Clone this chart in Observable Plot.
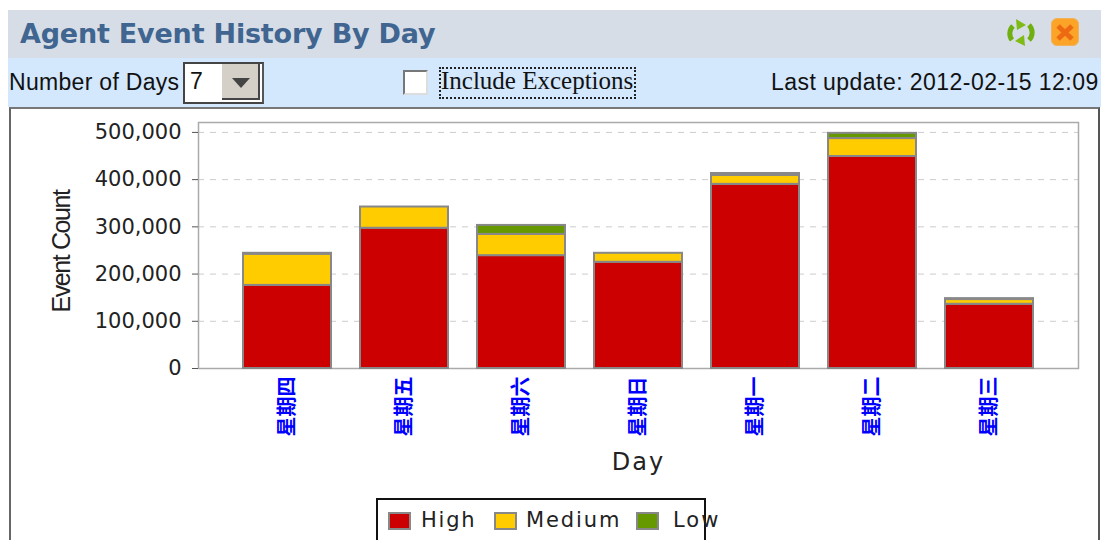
<!DOCTYPE html>
<html><head><meta charset="utf-8">
<script src="https://cdn.jsdelivr.net/npm/d3@7"></script>
<script src="https://cdn.jsdelivr.net/npm/@observablehq/plot@0.6"></script>
<style>
html,body{margin:0;padding:0;background:#fff;overflow:hidden;width:1101px;height:540px}
#root{position:relative;width:1101px;height:540px;overflow:hidden}
.abs{position:absolute;white-space:nowrap}
#chart{position:absolute;left:10px;top:110px}
#chart svg{overflow:visible}
.evc text{letter-spacing:-1.4px}
.dayl text{letter-spacing:2px}
</style></head><body>
<div id="root">
<div class="abs" style="left:8px;top:10px;width:1093px;height:48px;background:#d6dde6"></div>
<div class="abs" style="left:8px;top:58px;width:1093px;height:49px;background:#d3e7fd"></div>
<div class="abs" style="left:9px;top:107px;width:1091px;height:433px;box-sizing:border-box;background:#fff;border-top:2px solid #777;border-left:2px solid #666;border-right:2px solid #555"></div>
<div class="abs" id="title" style="left:20px;top:18px;font:bold 27px 'DejaVu Sans';color:#3f6590;letter-spacing:-.2px">Agent Event History By Day</div>
<svg class="abs" style="left:1004px;top:16px" width="34" height="34" viewBox="0 0 34 34">
  <path d="M8 24 A10.5 10.5 0 0 1 9 10" fill="none" stroke="#6faf10" stroke-width="5"/>
  <path d="M25 9 A10.5 10.5 0 0 1 25 24" fill="none" stroke="#6faf10" stroke-width="5"/>
  <path d="M12 3 L22 9 L13 14Z M21 30 L11 25 L20 19Z" fill="#7fbb14"/>
</svg>
<div class="abs" style="left:1051px;top:18px;width:28px;height:28px;border-radius:6px;background:#fca428;border:1px solid #f2b25c;box-sizing:border-box"></div>
<svg class="abs" style="left:1051px;top:18px" width="28" height="28"><path d="M7 8 L21 21 M21 8 L7 21" stroke="#ee6a12" stroke-width="5"/></svg>
<div class="abs" style="left:9px;top:69px;font:23px 'Liberation Sans';color:#111;letter-spacing:.3px">Number of Days</div>
<div class="abs" style="left:183px;top:62px;width:81px;height:42px;box-sizing:border-box;background:#fff;border:2px solid #444;border-right-color:#555"></div>
<div class="abs" style="left:190px;top:68px;font:23px 'Liberation Sans';color:#111">7</div>
<div class="abs" style="left:222px;top:64px;width:38px;height:36px;box-sizing:border-box;background:#d4d0c8;border-right:2px solid #444;border-bottom:2px solid #444"></div>
<svg class="abs" style="left:222px;top:64px" width="38" height="36"><path d="M10 14 H28 L19 24Z" fill="#444"/></svg>
<div class="abs" style="left:403px;top:70px;width:25px;height:25px;box-sizing:border-box;background:#fff;border:2px solid #777;border-right-color:#ddd;border-bottom-color:#ddd"></div>
<div class="abs" style="left:439px;top:67px;width:197px;height:32px;box-sizing:border-box;border:2px dotted #222"></div>
<div class="abs" id="incl" style="left:441px;top:67px;font:25px 'Liberation Serif';color:#111">Include Exceptions</div>
<div class="abs" id="upd" style="left:771px;top:69px;font:23px 'Liberation Sans';color:#111;letter-spacing:.45px">Last update: 2012-02-15 12:09</div>
<div id="chart"></div>
<div class="abs" style="left:376px;top:498px;width:330px;height:60px;box-sizing:border-box;border:2px solid #111;background:#fff"></div>
<div class="abs" style="left:388px;top:512px;width:23px;height:18px;box-sizing:border-box;background:#cc0000;border:2px solid #888"></div>
<div class="abs" style="left:421px;top:508px;font:21px 'DejaVu Sans';color:#222;letter-spacing:1.8px">High</div>
<div class="abs" style="left:494px;top:512px;width:23px;height:18px;box-sizing:border-box;background:#ffcc00;border:2px solid #888"></div>
<div class="abs" style="left:526px;top:508px;font:21px 'DejaVu Sans';color:#222;letter-spacing:1.9px">Medium</div>
<div class="abs" style="left:636px;top:512px;width:23px;height:18px;box-sizing:border-box;background:#669900;border:2px solid #888"></div>
<div class="abs" style="left:673px;top:508px;font:21px 'DejaVu Sans';color:#222;letter-spacing:2px">Low</div>
</div>
<script>
const days = ["星期四","星期五","星期六","星期日","星期一","星期二","星期三"];
const high = [176000,297000,239000,225000,390000,449000,136000];
const medium = [66000,45000,45000,19000,19000,38000,10000];
const low = [2000,0,19000,0,4000,11000,2000];
const levels = ["High","Medium","Low"];
const colors = ["#cc0000","#ffcc00","#669900"];
const yTicks = [0,100000,200000,300000,400000,500000];
const rows = days.flatMap((day,i)=>[
  {day,level:"High",count:high[i]},
  {day,level:"Medium",count:medium[i]},
  {day,level:"Low",count:low[i]}
]).filter(d=>d.count>0);

const plot = Plot.plot({
  width:1091,height:380,
  marginLeft:188,marginRight:23,marginTop:12,marginBottom:122,
  style:{background:"transparent",overflow:"visible"},
  x:{domain:days,paddingInner:0.25,paddingOuter:0.375,label:null},
  y:{domain:[0,521000],label:null},
  color:{domain:levels,range:colors},
  marks:[
    Plot.gridY(yTicks,{stroke:"#ccc",strokeOpacity:1,strokeDasharray:"6,6",strokeWidth:1}),
    Plot.frame({stroke:"#aaa",strokeWidth:1.5}),
    Plot.axisY({ticks:yTicks,tickFormat:d3.format(","),tickSize:6,tickPadding:11,label:null,
      fontSize:21,fontFamily:"DejaVu Sans",fill:"#222",stroke:"#555"}),
    Plot.axisX({tickSize:0,tickRotate:-90,tickPadding:8,label:null,
      fontSize:20,fontFamily:"Noto Sans CJK SC",fontWeight:700,fill:"#0000ff"}),
    Plot.barY(rows,{x:"day",y:"count",fill:"level",order:levels,stroke:"#888",strokeWidth:2}),
    Plot.text(["Event Count"],{className:"evc",frameAnchor:"left",textAnchor:"middle",dx:-137,dy:6,rotate:-90,fontSize:25,fontFamily:"Liberation Sans",fill:"#222"}),
    Plot.text(["Day"],{className:"dayl",frameAnchor:"bottom",dy:101,fontSize:24,fontFamily:"DejaVu Sans",fill:"#222"})
  ]
});
document.getElementById("chart").appendChild(plot);
</script>
</body></html>
